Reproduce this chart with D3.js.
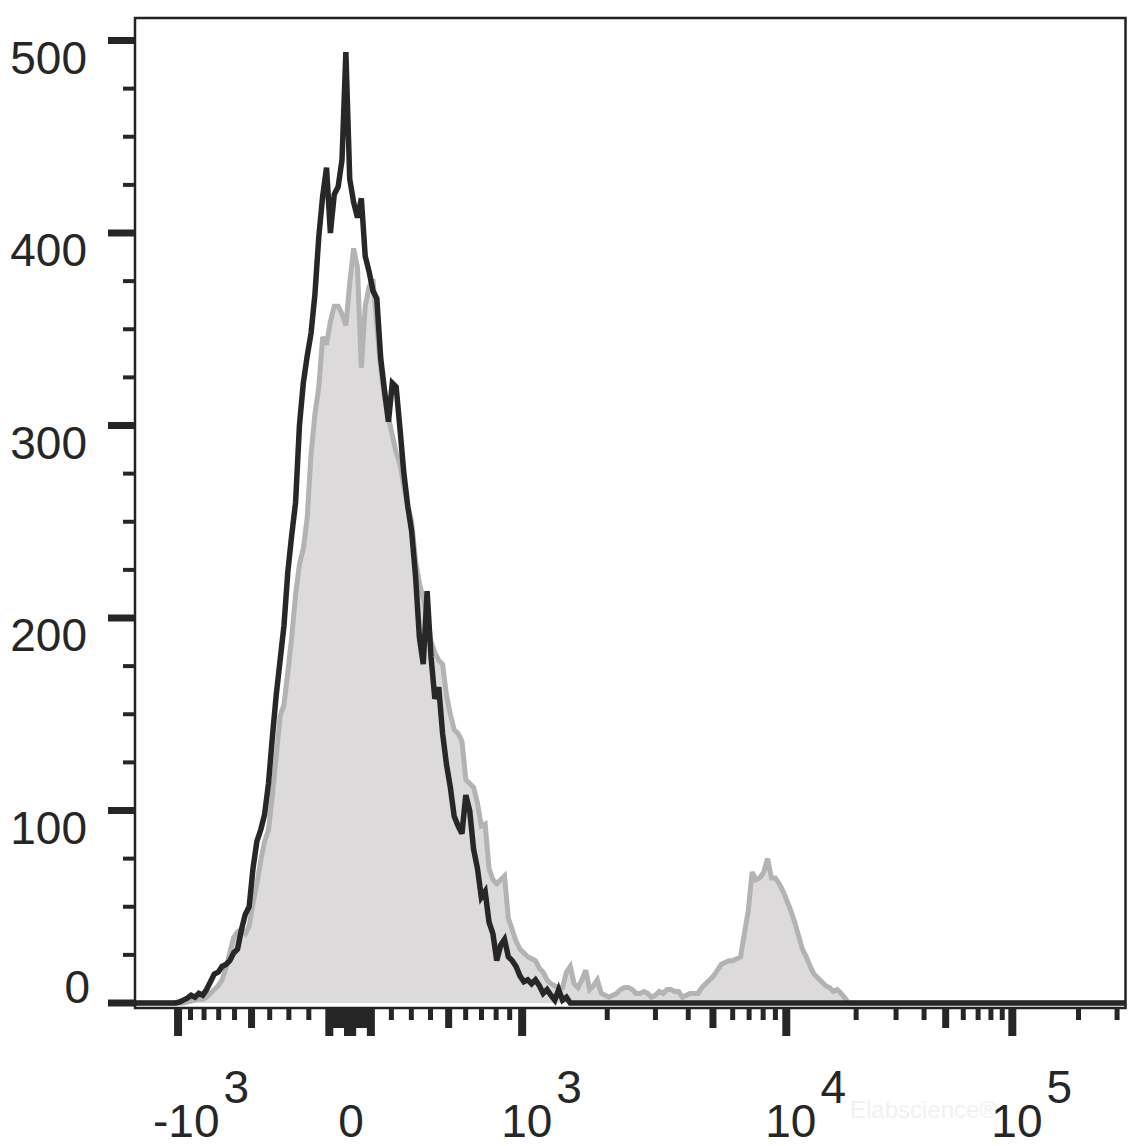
<!DOCTYPE html>
<html><head><meta charset="utf-8">
<script src="https://cdn.jsdelivr.net/npm/d3@7"></script>
<style>
html,body{margin:0;padding:0;background:#fff;}
svg{display:block;font-family:"Liberation Sans",Arial,Helvetica,sans-serif;}
</style>
</head><body>
<svg id="chart" width="1144" height="1146"></svg>
<script>
// ---------- data ----------
// histogram: 256 bins spread evenly over the logicle display range
const binTotal = 256;
// black (unfilled) histogram, counts starting at bin darkStart
const darkStart = 10;
const darkCounts = [
  0,0.5,1.5,2.5,4,3,5,4,7,11,
  15,16,19,20,22,26,28,38,46,50,
  70,84,90,98,114,138,160,178,196,224,
  243,260,300,322,336,348,368,398,419,434,
  400,420,424,438,494,428,416,408,418,388,
  380,370,366,335,318,302,322,320,298,275,
  258,245,222,190,176,214,180,158,164,140,
  124,112,97,92,88,108,100,80,70,55,
  58,42,36,22,30,33,24,22,19,14,
  11,12,10,12,9,5,7,4,1.5,7,
  1.5,3,0
];
// grey (filled) histogram, counts starting at bin grayStart
const grayStart = 12;
const grayCounts = [
  0,0.5,1,1.5,2,2,3,5,
  7,9,12,18,26,34,37,38,36,40,
  52,62,74,84,90,108,128,149,155,172,
  190,212,228,236,252,285,306,320,346,342,
  354,362,362,358,352,374,392,382,330,362,
  372,376,352,330,314,304,295,286,280,268,
  258,250,230,218,210,200,188,182,178,176,
  160,150,142,140,136,116,114,112,104,92,
  93,70,64,62,64,66,44,38,32,28,
  26,24,23,22,18,16,12,10,9,8,
  8,16,19,10,8,12,17,7,9,12,
  5,4,3,4,5,7,8,8,7,5,
  5,6,5,3,4,6,5,7,7,6,
  6,3,4,5,5,5,8,10,12,14,
  17,20,21,22,22,23,24,36,48,68,
  64,65,68,75,65,65,62,58,53,48,
  42,35,28,24,19,15,13,11,9,8,
  6,7,5,2.5,0
];
// y axis
const yMajorTicks = [0,100,200,300,400,500];
const yMinorTicks = [25,50,75,125,150,175,225,250,275,325,350,375,425,450,475];
// x axis (fluorescence units, logicle display)
const xMajorTicks = [-1000,-100,-10,0,10,100,1000,10000,100000];
const xMidTicks = [-500,-90,-80,-70,-60,-50,-40,-30,-20,20,30,40,50,60,70,80,90,500,5000,50000];
const xMinorTicks = [-900,-800,-700,-600,-400,-300,-200,200,300,400,600,700,800,900,
  2000,3000,4000,6000,7000,8000,9000,20000,30000,40000,60000,70000,80000,90000,200000,300000];
const xLabelValues = [-1000,0,1000,10000,100000];
const xLabelBases = ["-10","0","10","10","10"];
const xLabelExps = ["3","","3","4","5"];

// ---------- logicle transform ----------
const LA = 91, LP = 4;           // logicle parameters
const dispMin = -0.9862, dispMax = 3.555; // display range in decades
function logicleInverse(d){ // display -> data
  const a = Math.abs(d);
  return Math.sign(d) * LA * (Math.pow(10,a) - LP*LP*Math.pow(10,-a/LP) + LP*LP - 1);
}
function logicle(v){ // data -> display, bisection
  let lo = -6, hi = 7;
  for (let k=0;k<80;k++){ const m=(lo+hi)/2; if (logicleInverse(m) < v) lo=m; else hi=m; }
  return (lo+hi)/2;
}

// ---------- layout ----------
const L = 135, R = 1125.5, T = 18, B = 1008;
const ink = "#262626";
const svg = d3.select("#chart");

const xDisp = d3.scaleLinear().domain([dispMin, dispMax]).range([L, R]);
const x = v => xDisp(logicle(v));
const y = d3.scaleLinear().domain([0,500]).range([1003, 40.5]);
const binScale = d3.scaleLinear().domain([0, binTotal]).range([dispMin, dispMax]);

function fullSeries(start, counts){
  const out = [];
  for (let i=0;i<binTotal;i++){
    const j = i - start;
    const c = (j>=0 && j<counts.length) ? counts[j] : 0;
    out.push({d: binScale(i+0.5), c});
  }
  out.unshift({d: dispMin, c: 0});
  out.push({d: dispMax, c: 0});
  return out;
}
const darkData = fullSeries(darkStart, darkCounts);
const grayData = fullSeries(grayStart, grayCounts);

svg.append("defs").append("clipPath").attr("id","plotclip")
  .append("rect").attr("x",L).attr("y",T).attr("width",R-L).attr("height",B-T-2);

// watermark (very faint)
svg.append("text").attr("x",850).attr("y",1118).attr("font-size",24)
  .attr("fill","#f1f1f1").text("Elabscience®");

const plot = svg.append("g").attr("clip-path","url(#plotclip)");
const area = d3.area().x(d=>xDisp(d.d)).y0(y(0)).y1(d=>y(d.c));
const line = d3.line().x(d=>xDisp(d.d)).y(d=>y(d.c));

plot.append("path").datum(grayData).attr("d",area).attr("fill","#dcdadb");
plot.append("path").datum(grayData).attr("d",line).attr("fill","none")
  .attr("stroke","#b3b3b3").attr("stroke-width",5).attr("stroke-linejoin","miter").attr("stroke-miterlimit",3);
plot.append("path").datum(darkData).attr("d",line).attr("fill","none")
  .attr("stroke","#272727").attr("stroke-width",5.5).attr("stroke-linejoin","miter").attr("stroke-miterlimit",3);

// frame
svg.append("rect").attr("x",L).attr("y",T).attr("width",R-L).attr("height",B-T)
  .attr("fill","none").attr("stroke","#222").attr("stroke-width",2.5);

// y ticks
svg.append("g").selectAll("line.ymaj").data(yMajorTicks).join("line")
  .attr("x1",108).attr("x2",L).attr("y1",d=>y(d)).attr("y2",d=>y(d))
  .attr("stroke",ink).attr("stroke-width",7);
svg.append("g").selectAll("line.ymin").data(yMinorTicks).join("line")
  .attr("x1",123).attr("x2",L).attr("y1",d=>y(d)).attr("y2",d=>y(d))
  .attr("stroke",ink).attr("stroke-width",4);
svg.append("g").selectAll("text").data(yMajorTicks).join("text")
  .attr("x",d=> d===0 ? 90 : 87)
  .attr("y",d=> d===0 ? y(d) : y(d)+33)
  .attr("text-anchor","end").attr("font-size",46).attr("fill",ink)
  .text(d=>d);

// x ticks
function xTicks(vals, len, w){
  svg.append("g").selectAll("line").data(vals).join("line")
    .attr("x1",d=>x(d)).attr("x2",d=>x(d)).attr("y1",B).attr("y2",B+len)
    .attr("stroke",ink).attr("stroke-width",w);
}
xTicks(xMinorTicks, 12, 5);
xTicks(xMidTicks, 20, 7);
xTicks(xMajorTicks, 28, 8);

// x labels
xLabelValues.forEach((v,k)=>{
  const base = xLabelBases[k], exp = xLabelExps[k];
  const px = x(v);
  const t = svg.append("text").attr("font-size",46).attr("fill",ink).attr("y",1137);
  if (!exp){
    t.attr("x",px+1).attr("text-anchor","middle").text(base);
  } else {
    t.attr("x", base.startsWith("-") ? px-25 : px-21).attr("text-anchor","start");
    t.append("tspan").text(base);
    t.append("tspan").attr("dx",4).attr("dy",-34).text(exp);
  }
});
</script>
</body></html>
